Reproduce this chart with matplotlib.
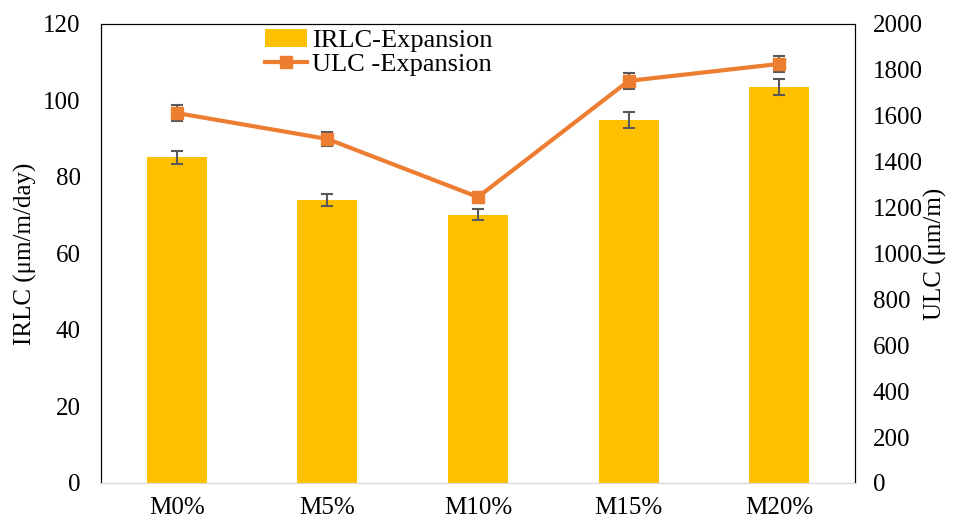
import numpy as np
import matplotlib.pyplot as plt

plt.rcParams['font.family'] = ['Liberation Serif', 'DejaVu Serif']

# mixes
mixes = ['M0%', 'M5%', 'M10%', 'M15%', 'M20%']

# IRLC expansion (um/m/day) with error
irlc = [85.2, 74.0, 70.1, 94.9, 103.5]
irlc_err = [1.7, 1.5, 1.4, 2.0, 2.1]

# ULC expansion (um/m) with error
ulc = [1612, 1499, 1246, 1752, 1826]
ulc_err = [35, 30, 20, 35, 35]

fig, ax = plt.subplots(figsize=(9.56, 5.21), dpi=100)
fig.subplots_adjust(left=0.106, right=0.894, top=0.954, bottom=0.073)

x = np.arange(len(mixes))
bars = ax.bar(x, irlc, width=0.4, color='#FFC000', zorder=2,
              label='IRLC-Expansion')
ax.errorbar(x, irlc, yerr=irlc_err, fmt='none', ecolor='#595959',
            elinewidth=1.5, capsize=4, capthick=1.5, zorder=3)

ax.set_xlim(-0.5, len(mixes) - 0.5)
ax.set_ylim(0, 120)
ax.set_yticks(range(0, 121, 20))
ax.set_xticks(x)
ax.set_xticklabels(mixes)
ax.set_ylabel('IRLC (μm/m/day)', fontsize=18, labelpad=4)
ax.tick_params(axis='y', labelsize=18, length=0, pad=15)
ax.tick_params(axis='x', labelsize=18, length=0, pad=10)
ax.spines['bottom'].set_color('#d9d9d9')

ax2 = ax.twinx()
line = ax2.errorbar(x, ulc, yerr=ulc_err, color='#ED7D31', lw=3,
                    marker='s', markersize=8, ecolor='#595959',
                    elinewidth=1.5, capsize=4, capthick=1.5,
                    label='ULC -Expansion', zorder=4)
ax2.set_ylim(0, 2000)
ax2.set_yticks(range(0, 2001, 200))
ax2.set_ylabel('ULC (μm/m)', fontsize=18, labelpad=1)
ax2.tick_params(axis='y', labelsize=18, length=0, pad=13)
ax2.spines['bottom'].set_color('#d9d9d9')

handles = [bars, line.lines[0]]
ax.legend(handles, ['IRLC-Expansion', 'ULC -Expansion'], loc='upper left',
          bbox_to_anchor=(0.203, 1.012), frameon=False, fontsize=19,
          handlelength=1.6, handletextpad=0.2, labelspacing=0.0,
          borderaxespad=0)

fig.savefig('out.png', dpi=100)
